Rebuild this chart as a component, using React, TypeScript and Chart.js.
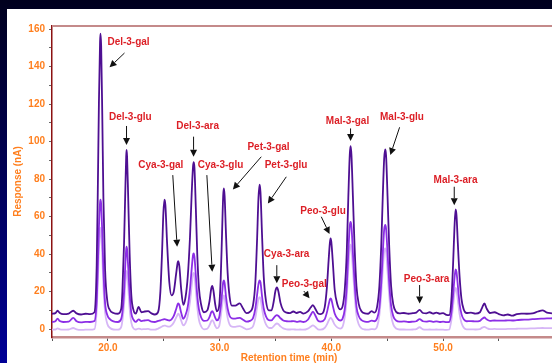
import { useEffect, useRef } from "react";
import { Chart, registerables } from "chart.js";

Chart.register(...registerables);

// Retention time (min), shared by the three traces
const retentionTimes = [
  15.0, 15.3, 15.5, 15.7, 16.0, 16.5, 16.9, 17.2, 17.6, 18.0, 18.4, 18.8,
  19.0, 19.1, 19.2, 19.3, 19.34, 19.4, 19.5, 19.6, 19.75, 19.95, 20.2,
  20.5, 20.9, 21.2,
  21.3, 21.45, 21.55, 21.64, 21.67, 21.72, 21.82, 21.95, 22.1, 22.3,
  22.5, 22.75, 23.0, 23.3, 23.6, 23.9, 24.2, 24.5,
  24.7, 24.85, 24.97, 25.07, 25.15, 25.3, 25.5, 25.7,
  25.9, 26.1, 26.25, 26.3, 26.4, 26.55, 26.75,
  26.95, 27.15, 27.35, 27.5, 27.62, 27.68, 27.75, 27.87, 28.0, 28.15, 28.35, 28.6,
  28.9, 29.1, 29.25, 29.34, 29.45, 29.6, 29.75,
  29.95, 30.1, 30.22, 30.32, 30.38, 30.45, 30.57, 30.72, 30.9, 31.1, 31.4, 31.8, 32.1, 32.4, 32.7,
  33.0, 33.2, 33.35, 33.48, 33.58, 33.66, 33.8, 33.95, 34.15, 34.4, 34.65,
  34.85, 35.0, 35.13, 35.25, 35.45, 35.7, 36.0, 36.3, 36.6, 36.9, 37.2, 37.5, 37.9, 38.15, 38.35, 38.55, 38.8,
  39.05, 39.4, 39.6, 39.75, 39.87, 39.93, 40.0, 40.12, 40.3, 40.55, 40.8,
  41.0, 41.2, 41.38, 41.52, 41.65, 41.72, 41.8, 41.93, 42.08, 42.25, 42.45, 42.7, 43.0, 43.3, 43.6, 43.85,
  44.1, 44.3, 44.47, 44.6, 44.73, 44.83, 44.9, 45.03, 45.18, 45.35, 45.55, 45.8, 46.1, 46.5, 46.9, 47.3, 47.6,
  47.9, 48.2, 48.5, 48.8, 49.1, 49.4, 49.7, 50.0, 50.3,
  50.55, 50.75, 50.9, 51.02, 51.12, 51.2, 51.32, 51.48, 51.65, 51.85, 52.1,
  52.5, 52.9, 53.3, 53.5, 53.7, 53.9, 54.2, 54.6, 55.0, 55.4, 55.8, 56.2, 56.6, 57.0, 57.5, 58.0, 58.5, 58.9, 59.3, 59.75,
];

// Response (nA), dark trace
const responseDark = [
  8.2, 8.5, 9.8, 8.6, 8.0, 8.3, 9.8, 8.4, 7.8, 8.2, 8.0, 9.0,
  34, 74, 121, 153, 157.5, 151, 114, 70, 32, 15, 10,
  8.6, 8.2, 11,
  20, 46, 71, 92, 95.5, 92, 70, 40, 18, 10,
  8.3, 11.9, 9.0, 9.4, 9.6, 8.4, 7.8, 9.2,
  20, 41, 62, 69, 66, 46, 25, 18,
  20, 29, 35.5, 36.3, 33.5, 22, 13,
  17, 28, 49, 72, 86.5, 89, 86, 65, 40, 22, 13, 9,
  10, 15, 21.5, 23, 20.5, 13.5, 9.5,
  12, 27, 51, 71, 75, 71, 51, 30, 17, 12.5, 12.5, 13.7, 11, 8.5, 9.2,
  13, 25, 47, 70, 77, 73, 50, 28, 15, 10, 10,
  15, 20.5, 22.2, 20.5, 14, 10, 8.8, 8.5, 9.4, 8.6, 9.2, 8.3, 9.5, 11.5, 12.8, 11, 8.4,
  8, 11.5, 22, 36, 46, 48.4, 46.5, 37, 21, 13, 10.5,
  12, 21, 41, 70, 93, 97.6, 93, 71, 44, 23, 13.5, 9.5, 8.4, 8.2, 9.6, 8.8,
  12, 23, 45, 70, 91, 95.8, 92.5, 71, 44, 23, 13, 9.2, 8.4, 8.6, 8.2, 8.5, 8.8,
  10.3, 8.6, 8.4, 9.0, 8.3, 8.8, 8.2, 8.5, 7.6,
  7.5, 16, 35, 54, 63.8, 61, 46, 28, 16, 10.5, 8.6,
  8.8, 8.3, 9.0, 11.5, 13.7, 11, 8.6, 9.0, 8.0, 7.3, 7.8, 7.2, 8.0, 8.3, 8.2, 8.4, 9.4, 10.0, 8.8, 8.4,
];

// Response (nA), medium trace
const responseMedium = [
  3.8, 4.2, 5.6, 4.3, 3.8, 4.0, 6.0, 4.2, 3.6, 3.9, 3.8, 4.3,
  15, 33, 54, 67.5, 69, 66.5, 51, 32, 14, 7.5, 5.2,
  4.1, 3.8, 5.6,
  9, 20, 33, 42.5, 44, 42.5, 33, 19, 8.5, 5,
  3.9, 5.2, 4.3, 4.6, 4.8, 4.0, 3.8, 4.4,
  4.7, 5.0, 5.2, 5.3, 5.2, 4.9, 4.6, 5.2,
  7, 10.5, 13.3, 13.7, 12.8, 9, 5.5,
  7.5, 12, 21.5, 32, 39.5, 40.4, 38.5, 29, 18, 10.5, 6.2, 4.4,
  4.6, 6.5, 9, 9.6, 8.7, 6.2, 4.7,
  6, 12, 19, 25, 26, 24.5, 17.5, 11, 7, 5.7, 5.6, 6, 5, 4, 4.4,
  6, 11, 18, 24, 26, 25, 17.5, 11, 6.8, 4.8, 4.7,
  6, 7.1, 7.5, 7.1, 5.8, 4.6, 4.2, 4.1, 4.3, 3.9, 4.2, 3.8, 5, 7.5, 9.3, 7.5, 4.5,
  4.0, 5.2, 8.8, 12.8, 15.8, 16.4, 15.9, 12.8, 8.3, 5.6, 4.6,
  5.5, 10.5, 23, 41, 55, 57.2, 55, 41, 25, 12, 7, 4.8, 4, 3.9, 4.5, 4.2,
  5.8, 11.5, 25, 40, 53, 55.5, 53.5, 41, 25, 12.5, 6.8, 4.6, 4, 4.1, 3.8, 4, 4.2,
  5.3, 4.2, 4, 4.3, 3.9, 4.1, 3.8, 4, 3.7,
  3.8, 9, 18.5, 27, 31.8, 30.5, 23.5, 13.5, 8, 5.2, 4.2,
  4.3, 4.1, 4.4, 5.5, 6.2, 5.2, 4.4, 4.6, 4.5, 4.5, 4.7, 4.6, 4.8, 5.0, 5.1, 5.3, 5.5, 5.6, 5.7, 5.8,
];

// Response (nA), light trace
const responseLight = [
  -0.3, -0.2, 0.4, -0.1, -0.3, -0.2, 0.6, -0.1, -0.4, -0.3, -0.3, 0,
  10, 25, 42, 52.5, 54, 52, 39, 23, 9, 2.8, 0.6,
  -0.2, -0.3, 1.2,
  4.5, 13, 23, 30, 31, 30, 23, 11, 3.5, 0.3,
  -0.2, 0.3, -0.1, 0, 0.1, -0.3, -0.3, 0.3,
  0.9, 1.4, 1.7, 1.9, 1.8, 1.5, 1.3, 2.0,
  3.5, 6, 7.8, 8.2, 7.5, 4.8, 2,
  3.2, 7, 14.5, 23, 29.3, 30, 29, 21, 12, 5, 1.5, -0.1,
  0.2, 2.1, 4.2, 4.8, 4, 1.8, 0.4,
  1.4, 6.5, 12.5, 17.2, 18, 16.8, 11.5, 6, 2.4, 1.3, 1.2, 1.6, 0.8, -0.1, 0.2,
  1.6, 6, 11.5, 16, 17, 16.3, 11, 6, 2.5, 0.7, 0.6,
  1.6, 2.6, 3, 2.7, 1.5, 0.4, -0.1, -0.2, -0.1, -0.3, -0.2, -0.3, 0.3, 1.3, 2, 1.3, -0.1,
  -0.3, 0.6, 2.4, 4.4, 5.7, 6, 5.8, 4.6, 2.4, 0.8, 0.3,
  1.2, 6.5, 17, 32, 43, 45, 43, 32, 18.5, 7.5, 2.6, 0.4, -0.2, -0.3, 0, -0.1,
  1.4, 7.5, 19, 31, 41.5, 43, 41.5, 31, 18, 7.5, 2.4, 0.3, -0.2, -0.2, -0.3, -0.2, 0,
  1, -0.1, -0.3, -0.2, -0.3, -0.2, -0.3, -0.3, -0.4,
  -0.2, 5, 12.5, 19, 22, 21, 15.5, 8, 3.2, 0.8, -0.1,
  -0.1, -0.2, 0, 0.8, 1.2, 0.6, 0, 0.1, 0, 0, 0.1, 0.1, 0.2, 0.3, 0.3, 0.4, 0.5, 0.6, 0.5, 0.5,
];

// Axis ticks
const xTickValues = [15, 20, 25, 30, 35, 40, 45, 50, 55];
const xLabelledTicks = [20, 30, 40, 50];
const yTickValues = [0, 10, 20, 30, 40, 50, 60, 70, 80, 90, 100, 110, 120, 130, 140, 150, 160];
const yLabelledTicks = [0, 20, 40, 60, 80, 100, 120, 140, 160];

// Peak annotations (data coordinates: retention time, response)
const peakNames = [
  "Del-3-gal", "Del-3-glu", "Cya-3-gal", "Del-3-ara", "Cya-3-glu", "Pet-3-gal", "Pet-3-glu",
  "Cya-3-ara", "Peo-3-gal", "Peo-3-glu", "Mal-3-gal", "Mal-3-glu", "Peo-3-ara", "Mal-3-ara",
];
const labelTime = [21.85, 22.01, 24.74, 28.03, 30.08, 34.38, 35.95, 36.0, 37.58, 39.26, 41.45, 46.32, 48.53, 51.12];
const labelResp = [152.7, 113.2, 87.1, 107.9, 87.5, 97.2, 87.1, 40, 24, 63.1, 110.6, 113.2, 26.5, 79.5];
const arrowFrom = [
  [21.49, 147.2], [21.67, 108.3], [25.81, 82.1], [27.67, 102.6], [28.86, 82.1], [33.73, 91.9], [35.97, 81.2],
  [35.12, 34.1], [37.54, 20.3], [39.1, 59.9], [41.72, 107], [46.11, 107.6], [47.9, 23.5], [51.0, 75.9],
];
const arrowTo = [
  [20.15, 139.6], [21.67, 98.1], [26.2, 43.9], [27.67, 91.9], [29.34, 30.6], [31.19, 74.5], [34.32, 67.0],
  [35.12, 24.4], [38.05, 16.4], [39.84, 50.7], [41.72, 100.3], [45.28, 92.8], [47.9, 13.7], [51.0, 66.1],
];

const ORANGE = "#ff7f1e";
const FONT_FAMILY = '"Liberation Sans", Arial, Helvetica, sans-serif';

const overlayPlugin = {
  id: "overlay",
  afterDraw(chart: any) {
    const { ctx, chartArea } = chart;
    const xs = chart.scales.x;
    const ys = chart.scales.y;
    ctx.save();
    // top frame line
    ctx.strokeStyle = "#c48a8a";
    ctx.lineWidth = 2;
    ctx.beginPath();
    ctx.moveTo(chartArea.left, chartArea.top);
    ctx.lineTo(chartArea.right, chartArea.top);
    ctx.stroke();

    // arrows
    ctx.strokeStyle = "#111";
    ctx.fillStyle = "#111";
    ctx.lineWidth = 1;
    for (let i = 0; i < arrowFrom.length; i++) {
      const x1 = xs.getPixelForValue(arrowFrom[i][0]);
      const y1 = ys.getPixelForValue(arrowFrom[i][1]);
      const x2 = xs.getPixelForValue(arrowTo[i][0]);
      const y2 = ys.getPixelForValue(arrowTo[i][1]);
      const a = Math.atan2(y2 - y1, x2 - x1);
      const len = 7;
      const hw = 3.5;
      const bx = x2 - len * Math.cos(a);
      const by = y2 - len * Math.sin(a);
      ctx.beginPath();
      ctx.moveTo(x1, y1);
      ctx.lineTo(bx, by);
      ctx.stroke();
      ctx.beginPath();
      ctx.moveTo(x2, y2);
      ctx.lineTo(bx + hw * Math.sin(a), by - hw * Math.cos(a));
      ctx.lineTo(bx - hw * Math.sin(a), by + hw * Math.cos(a));
      ctx.closePath();
      ctx.fill();
    }

    // labels
    ctx.font = `bold 10px ${FONT_FAMILY}`;
    ctx.fillStyle = "#dc1f26";
    ctx.textAlign = "center";
    ctx.textBaseline = "middle";
    for (let i = 0; i < peakNames.length; i++) {
      ctx.fillText(peakNames[i], xs.getPixelForValue(labelTime[i]), ys.getPixelForValue(labelResp[i]));
    }

    // x axis title
    ctx.fillStyle = ORANGE;
    ctx.fillText("Retention time (min)", 282, 349);
    ctx.restore();
  },
};

export default function App() {
  const ref = useRef<HTMLCanvasElement>(null);

  useEffect(() => {
    const mk = (vals: number[]) => retentionTimes.map((t, i) => ({ x: t, y: vals[i] }));
    const chart = new Chart(ref.current as HTMLCanvasElement, {
      type: "line",
      data: {
        datasets: [
          { data: mk(responseDark), borderColor: "#4e0f92", borderWidth: 1.8 },
          { data: mk(responseMedium), borderColor: "#8c2ee6", borderWidth: 1.8 },
          { data: mk(responseLight), borderColor: "#d6b6f6", borderWidth: 1.8 },
        ],
      },
      options: {
        responsive: false,
        animation: false,
        layout: { padding: { top: 17, left: 0, right: 0, bottom: 0 } },
        plugins: { legend: { display: false }, tooltip: { enabled: false } },
        elements: {
          point: { radius: 0 },
          line: { cubicInterpolationMode: "monotone", fill: false },
        },
        scales: {
          x: {
            type: "linear",
            min: 15,
            max: 59.75,
            border: { color: "#c48a8a", width: 2.5 },
            grid: { display: true, drawOnChartArea: false, drawTicks: true, tickLength: 4, color: "#555" },
            afterBuildTicks: (s: any) => {
              s.ticks = xTickValues.map((v) => ({ value: v }));
            },
            afterFit: (s: any) => {
              s.height = 26;
            },
            ticks: {
              autoSkip: false,
              maxRotation: 0,
              padding: 1,
              color: ORANGE,
              font: { family: FONT_FAMILY, size: 10, weight: "bold" },
              callback: (v: any) => (xLabelledTicks.includes(Number(v)) ? Number(v).toFixed(1) : ""),
            },
          },
          y: {
            type: "linear",
            min: -4.2,
            max: 161.6,
            border: { color: "#8b1111", width: 1.5 },
            grid: { display: true, drawOnChartArea: false, drawTicks: true, tickLength: 3, color: "#666" },
            afterBuildTicks: (s: any) => {
              s.ticks = yTickValues.map((v) => ({ value: v }));
            },
            afterFit: (s: any) => {
              s.width = 45;
            },
            title: {
              display: true,
              text: "Response (nA)",
              color: ORANGE,
              font: { family: FONT_FAMILY, size: 10, weight: "bold" },
              padding: { top: 5, bottom: 0 },
            },
            ticks: {
              autoSkip: false,
              padding: 4,
              color: ORANGE,
              font: { family: FONT_FAMILY, size: 10, weight: "bold" },
              callback: (v: any) => (yLabelledTicks.includes(Number(v)) ? String(v) : ""),
            },
          },
        },
      } as any,
      plugins: [overlayPlugin],
    });
    return () => chart.destroy();
  }, []);

  return (
    <div
      style={{
        position: "fixed",
        left: 0,
        top: 0,
        width: 552,
        height: 363,
        overflow: "hidden",
        background: "linear-gradient(180deg, #00001e 0%, #000052 45%, #000096 100%)",
      }}
    >
      <div style={{ position: "absolute", left: 7, top: 9, width: 545, height: 354, background: "#ffffff" }}>
        <canvas ref={ref} width={545} height={354} style={{ display: "block", width: 545, height: 354 }} />
      </div>
    </div>
  );
}
